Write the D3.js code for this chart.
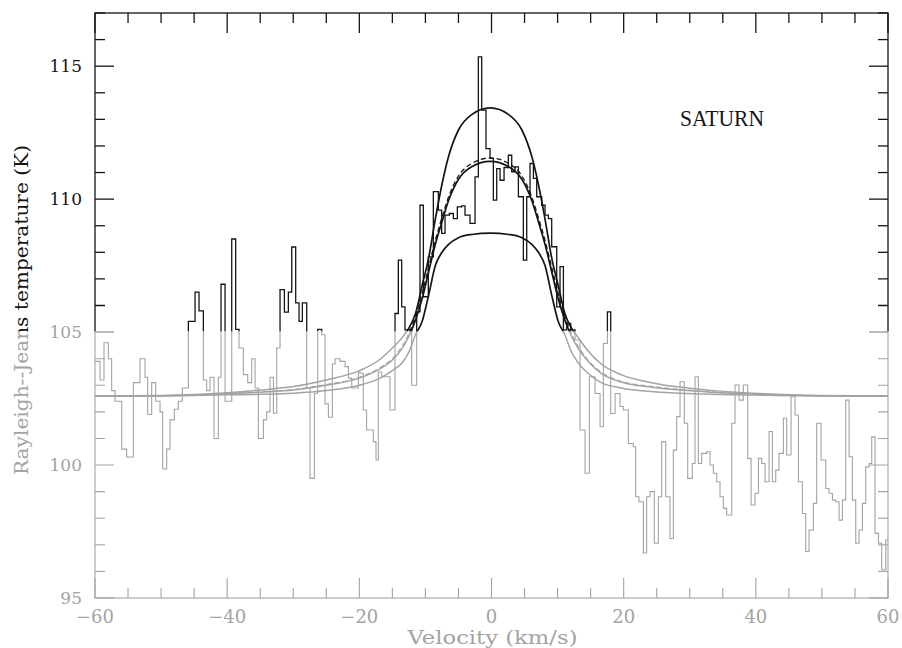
<!DOCTYPE html>
<html><head><meta charset="utf-8">
<script src="https://cdn.jsdelivr.net/npm/d3@7"></script>
<style>body{margin:0;background:#fff}svg{display:block}</style>
</head><body><svg id="c" width="902" height="648"></svg>
<script>
// ---- data ----
const xTickValues = [-60,-40,-20,0,20,40,60];
const yTickValues = [95,100,105,110,115];
const title = "SATURN";
const xTitle = "Velocity (km/s)";
const yTitle = "Rayleigh--Jeans temperature (K)";

// observed spectrum: [channel start velocity (km/s), Rayleigh-Jeans temperature (K)]
const spectrum = [
[-60.0,103.9],[-59.24,103.2],[-58.64,104.6],[-57.98,104.0],[-57.48,102.8],[-56.97,102.4],[-55.96,100.6],[-55.21,100.3],
[-54.2,103.1],[-53.19,104.0],[-52.43,103.3],[-52.03,101.9],[-51.42,103.1],[-50.82,102.4],[-50.16,102.0],[-49.76,99.85],
[-49.15,100.6],[-48.65,101.7],[-47.99,102.1],[-47.39,102.4],[-46.78,102.9],[-45.87,105.4],[-44.86,106.5],[-44.26,105.8],
[-43.6,103.2],[-43.1,102.8],[-42.6,103.3],[-41.99,101.0],[-41.33,103.3],[-40.93,106.8],[-40.32,102.4],[-39.31,108.5],
[-38.71,105.1],[-38.2,104.4],[-37.55,103.4],[-36.89,103.1],[-36.29,104.0],[-35.78,102.9],[-35.28,101.0],[-34.52,101.7],
[-34.02,102.0],[-33.51,103.3],[-33.0,101.95],[-32.5,104.4],[-32.0,106.6],[-31.34,105.75],[-30.74,106.5],[-30.23,108.2],
[-29.63,106.1],[-29.12,105.4],[-28.62,106.1],[-27.96,102.9],[-27.46,99.5],[-26.8,102.7],[-26.3,105.1],[-25.69,104.9],
[-25.19,102.3],[-24.68,101.8],[-24.08,103.8],[-23.67,104.0],[-22.92,103.9],[-22.16,103.7],[-21.65,103.27],[-21.15,102.9],
[-20.14,103.5],[-19.9,103.45],[-19.4,102.07],[-18.9,101.32],[-17.88,100.88],[-17.48,100.19],[-17.13,103.5],[-16.62,103.32],
[-15.36,102.07],[-14.6,105.7],[-14.1,107.71],[-13.59,105.95],[-13.09,105.08],[-12.08,103.0],[-11.32,105.76],[-10.82,109.77],
[-10.31,106.33],[-9.56,107.83],[-8.8,110.28],[-8.04,109.59],[-7.54,108.71],[-7.03,109.4],[-6.38,109.46],[-5.77,109.27],
[-5.17,109.71],[-4.51,109.75],[-4.01,109.4],[-3.25,109.09],[-2.49,110.84],[-1.99,115.35],[-1.48,113.35],[-0.83,111.9],
[-0.22,111.53],[0.28,109.96],[0.79,111.15],[1.29,110.71],[1.9,111.19],[2.55,111.65],[3.06,111.03],[3.56,111.21],
[4.07,110.09],[4.82,107.71],[5.33,110.09],[5.83,111.34],[6.34,110.78],[6.84,110.09],[7.6,109.77],[8.1,109.4],
[8.61,109.27],[9.11,108.21],[9.87,105.95],[10.37,107.46],[10.88,105.08],[11.38,105.33],[11.99,105.08],[12.64,104.7],
[13.4,101.32],[14.16,99.69],[14.81,103.32],[15.67,102.69],[16.43,101.44],[16.93,104.57],[17.54,105.76],[18.04,101.94],
[18.7,102.69],[19.45,102.2],[19.95,102.07],[20.71,100.81],[21.46,100.69],[21.82,98.81],[22.32,98.62],[22.98,96.69],
[23.48,98.81],[23.99,99.0],[24.64,97.06],[25.25,98.81],[25.75,100.88],[26.36,98.81],[27.01,97.24],[27.52,100.56],
[28.02,101.82],[28.53,103.13],[29.18,101.57],[29.69,99.5],[30.39,100.06],[30.8,103.32],[31.3,100.06],[31.81,100.44],
[32.56,100.5],[33.07,100.0],[33.57,99.69],[34.08,99.37],[34.58,98.81],[35.09,98.37],[35.59,98.12],[36.35,101.57],
[36.85,103.01],[37.46,102.44],[38.11,103.01],[38.77,100.25],[39.28,98.5],[39.88,98.94],[40.39,100.25],[40.89,100.06],
[41.4,99.37],[42.0,101.26],[42.5,99.37],[43.01,99.81],[43.51,100.44],[44.17,101.76],[44.67,100.38],[45.33,102.57],
[45.93,101.88],[46.44,99.37],[47.05,98.18],[47.55,96.75],[48.05,97.56],[48.71,98.56],[49.21,101.57],[49.87,100.19],
[50.58,99.12],[51.08,98.94],[51.59,98.68],[52.09,98.62],[52.6,97.93],[53.1,98.68],[53.6,102.44],[54.11,100.31],
[54.61,98.68],[55.12,97.06],[55.62,97.56],[56.13,98.56],[56.63,99.93],[57.13,100.06],[57.54,101.06],[58.04,97.43],
[58.55,97.06],[59.05,96.06],[59.66,97.18]
];
const spectrumEnd = 60;

// model line profiles, sampled at these velocities
const modelV = [-60,-50,-40,-35,-30,-25,-20,-17,-15,-13.5,-12.5,-11.5,-10.5,-9.5,-8.5,-7.5,-6.5,-5,-3,-0.2,
                2.6,4.6,6.1,7.1,8.1,9.1,10.1,11.1,12.1,13.1,14.6,16.6,19.6,24.6,29.6,34.6,39.6,49.6,60];
const modelHigh = [102.6,102.62,102.72,102.82,102.95,103.2,103.55,103.95,104.4,104.8,105.15,105.7,106.75,107.8,109.25,110.55,111.6,112.6,113.18,113.43,
                113.18,112.6,111.6,110.55,109.25,107.8,106.75,105.7,105.15,104.8,104.3,103.8,103.4,103.08,102.9,102.78,102.7,102.62,102.6];
const modelDashed = [102.6,102.61,102.69,102.75,102.84,103.03,103.3,103.65,104.0,104.48,104.95,105.6,106.45,107.45,108.45,109.3,110.08,110.87,111.34,111.55,
                111.34,110.87,110.08,109.3,108.45,107.45,106.45,105.6,104.95,104.48,103.95,103.5,103.15,102.95,102.82,102.73,102.68,102.61,102.6];
const modelMid = [102.6,102.61,102.68,102.74,102.82,103.0,103.27,103.6,103.95,104.4,104.85,105.45,106.25,107.28,108.3,109.15,109.95,110.75,111.22,111.42,
                111.22,110.75,109.95,109.15,108.3,107.28,106.25,105.45,104.85,104.4,103.9,103.45,103.12,102.92,102.8,102.72,102.67,102.61,102.6];
const modelLow = [102.6,102.6,102.64,102.66,102.7,102.8,103.0,103.25,103.55,103.85,104.25,104.9,105.4,106.4,107.5,108.0,108.3,108.55,108.67,108.72,
                108.67,108.55,108.3,108.0,107.5,106.4,105.4,104.9,104.25,103.85,103.45,103.1,102.9,102.76,102.69,102.65,102.63,102.6,102.6];

// ---- drawing ----
const svg = d3.select("#c");
const x = d3.scaleLinear().domain([-60,60]).range([95,888]);
const y = d3.scaleLinear().domain([95,117]).range([598,13]);
const BLACK = "#151515", GRAY = "#a3a3a3";
const split = y(105) - 0.5;

const defs = svg.append("defs");
defs.append("clipPath").attr("id","clipTop").append("rect")
  .attr("x",0).attr("y",0).attr("width",902).attr("height",split);
defs.append("clipPath").attr("id","clipBot").append("rect")
  .attr("x",0).attr("y",split).attr("width",902).attr("height",648-split);
defs.append("clipPath").attr("id","clipPlot").append("rect")
  .attr("x",x(-60)).attr("y",y(117)).attr("width",x(60)-x(-60)).attr("height",y(95)-y(117));

const stepLine = d3.line().x(d=>x(d[0])).y(d=>y(d[1])).curve(d3.curveStepAfter);
const smooth = d3.line().x(d=>x(d[0])).y(d=>y(d[1])).curve(d3.curveMonotoneX);
const specData = spectrum.concat([[spectrumEnd, spectrum[spectrum.length-1][1]]]);
const zip = vals => modelV.map((v,i)=>[v, vals[i]]);

function layer(clipId, color, lw){
  const g = svg.append("g").attr("clip-path",`url(#${clipId})`);
  g.append("rect").attr("x",x(-60)).attr("y",y(117)).attr("width",x(60)-x(-60)).attr("height",y(95)-y(117))
    .attr("fill","none").attr("stroke",color).attr("stroke-width",lw);
  d3.range(-60,61,5).forEach(v=>{
    const len = (v % 20 === 0) ? 20 : 10;
    g.append("line").attr("x1",x(v)).attr("x2",x(v)).attr("y1",y(95)).attr("y2",y(95)-len).attr("stroke",color).attr("stroke-width",lw);
    g.append("line").attr("x1",x(v)).attr("x2",x(v)).attr("y1",y(117)).attr("y2",y(117)+len).attr("stroke",color).attr("stroke-width",lw);
  });
  d3.range(95,118,1).forEach(t=>{
    const len = (t % 5 === 0) ? 19 : 10;
    g.append("line").attr("x1",x(-60)).attr("x2",x(-60)+len).attr("y1",y(t)).attr("y2",y(t)).attr("stroke",color).attr("stroke-width",lw);
    g.append("line").attr("x1",x(60)).attr("x2",x(60)-len).attr("y1",y(t)).attr("y2",y(t)).attr("stroke",color).attr("stroke-width",lw);
  });
  const p = g.append("g").attr("clip-path","url(#clipPlot)");
  [modelHigh, modelMid, modelLow].forEach(vals=>{
    p.append("path").attr("d",smooth(zip(vals))).attr("fill","none").attr("stroke",color).attr("stroke-width",lw+0.4);
  });
  p.append("path").attr("d",smooth(zip(modelDashed))).attr("fill","none").attr("stroke",color)
    .attr("stroke-width",lw).attr("stroke-dasharray","5,3");
  p.append("path").attr("d",stepLine(specData)).attr("fill","none").attr("stroke",color).attr("stroke-width",lw);
  g.append("text").attr("transform",`translate(28,310) rotate(-90)`)
    .attr("text-anchor","middle").attr("font-family","DejaVu Serif").attr("font-size",19)
    .attr("textLength",330).attr("lengthAdjust","spacingAndGlyphs")
    .attr("fill",color).text(yTitle);
}
layer("clipTop", BLACK, 1.3);
layer("clipBot", GRAY, 1.1);

// tick labels
svg.append("g").selectAll("text").data(yTickValues).join("text")
  .attr("x",82).attr("y",d=>y(d)+6).attr("text-anchor","end")
  .attr("font-family","DejaVu Serif").attr("font-size",17)
  .attr("fill",d=> d>105 ? BLACK : GRAY).text(d=>d);
svg.append("g").selectAll("text").data(xTickValues).join("text")
  .attr("x",d=>x(d)).attr("y",623).attr("text-anchor","middle")
  .attr("font-family","DejaVu Serif").attr("font-size",18)
  .attr("fill",GRAY).text(d=> d<0 ? "\u2212"+Math.abs(d) : String(d));
svg.append("text").attr("x",x(0)+1).attr("y",644).attr("text-anchor","middle")
  .attr("font-family","DejaVu Serif").attr("font-size",18).attr("fill",GRAY)
  .attr("textLength",170).attr("lengthAdjust","spacingAndGlyphs").text(xTitle);
svg.append("text").attr("x",680).attr("y",126)
  .attr("font-family","Liberation Serif").attr("font-size",23).attr("fill",BLACK)
  .attr("textLength",84).attr("lengthAdjust","spacingAndGlyphs").text(title);
</script></body></html>
